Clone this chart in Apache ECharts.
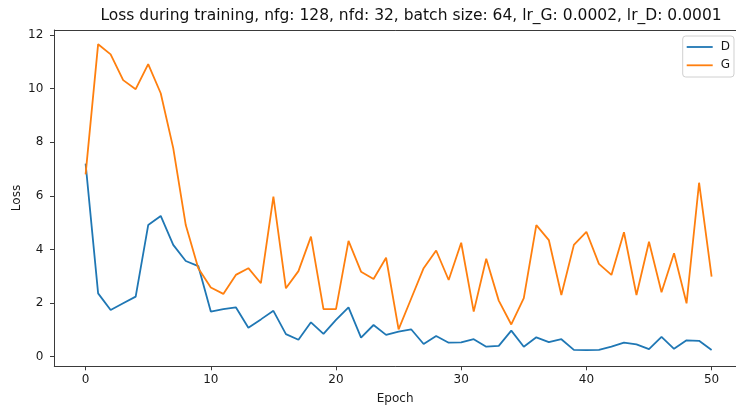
<!DOCTYPE html>
<html>
<head>
<meta charset="utf-8">
<script src="https://cdn.jsdelivr.net/npm/echarts@6/dist/echarts.min.js"></script>
<style>
  html, body { margin: 0; padding: 0; background: #fff; }
  #chart { width: 736px; height: 406px; }
</style>
</head>
<body>
<div id="chart"></div>
<script>
// Training losses per epoch
const epochs = Array.from({ length: 51 }, (_, i) => i);
const lossD = [
  7.2, 2.36, 1.74, 1.99, 2.24, 4.91, 5.25, 4.17, 3.57, 3.38,
  1.68, 1.77, 1.84, 1.08, 1.39, 1.71, 0.84, 0.63, 1.28, 0.85,
  1.37, 1.84, 0.71, 1.18, 0.81, 0.93, 1.02, 0.47, 0.77, 0.52,
  0.53, 0.65, 0.37, 0.40, 0.97, 0.37, 0.72, 0.54, 0.65, 0.25,
  0.24, 0.25, 0.37, 0.52, 0.46, 0.28, 0.74, 0.29, 0.61, 0.59,
  0.25
];
const lossG = [
  6.8, 11.66, 11.28, 10.32, 9.98, 10.92, 9.83, 7.78, 4.91, 3.3,
  2.58, 2.34, 3.05, 3.30, 2.74, 5.97, 2.55, 3.19, 4.48, 1.77,
  1.77, 4.32, 3.17, 2.90, 3.69, 1.02, 2.16, 3.30, 3.96, 2.86,
  4.25, 1.68, 3.65, 2.09, 1.20, 2.18, 4.91, 4.35, 2.30, 4.17,
  4.66, 3.46, 3.05, 4.64, 2.30, 4.29, 2.40, 3.86, 1.99, 6.49,
  2.99
];
const xTicks = [0, 10, 20, 30, 40, 50];
const yTicks = [0, 2, 4, 6, 8, 10, 12];

const titleText = 'Loss during training, nfg: 128, nfd: 32, batch size: 64, lr_G: 0.0002, lr_D: 0.0001';
const font = 'DejaVu Sans';
const axisColor = '#3a3a3a';
const textColor = '#1a1a1a';

// Plot box: x spans -2.5 .. 52.5 but the canvas cuts it off just before the right edge
const plotLeft = 54.3;
const plotWidth = 681.7;
const pxPerEpoch = 12.52;
const xMin = -2.5;
const xMax = xMin + plotWidth / pxPerEpoch;

const pairs = (vals) => epochs.map((e, i) => [e, vals[i]]);

const chart = echarts.init(document.getElementById('chart'), null, { renderer: 'canvas' });
chart.setOption({
  animation: false,
  backgroundColor: '#fff',
  title: {
    text: titleText,
    left: 411,
    top: 8,
    padding: 0,
    textAlign: 'center',
    textStyle: { fontFamily: font, fontSize: 15.5, fontWeight: 'normal', color: '#111' }
  },
  grid: {
    left: plotLeft,
    top: 30,
    width: plotWidth,
    height: 336,
    show: false,
    containLabel: false,
    outerBoundsMode: 'none'
  },
  legend: {
    orient: 'vertical',
    left: 682.7,
    top: 36,
    padding: [4, 4, 4.7, 4],
    icon: 'rect',
    itemWidth: 26,
    itemHeight: 1.8,
    itemGap: 4.3,
    backgroundColor: 'rgba(255,255,255,0.8)',
    borderColor: '#d0d0d0',
    borderWidth: 1,
    borderRadius: 3,
    textStyle: { fontFamily: font, fontSize: 12, lineHeight: 14, color: textColor, padding: [0, 0, 0, 3] },
    data: ['D', 'G']
  },
  xAxis: [
    {
      type: 'value',
      min: xMin,
      max: xMax,
      name: 'Epoch',
      nameLocation: 'middle',
      nameGap: 27,
      nameMoveOverlap: false,
      nameTextStyle: { fontFamily: font, fontSize: 12, color: textColor },
      axisLine: { show: true, onZero: false, lineStyle: { color: axisColor, width: 1 } },
      axisTick: { show: true, inside: false, length: 4.3, customValues: xTicks, lineStyle: { color: axisColor } },
      axisLabel: { customValues: xTicks, margin: 7.5, fontFamily: font, fontSize: 12, color: textColor },
      splitLine: { show: false }
    },
    {
      // top spine
      type: 'value',
      position: 'top',
      min: xMin,
      max: xMax,
      axisLine: { show: true, onZero: false, lineStyle: { color: axisColor, width: 1 } },
      axisTick: { show: false },
      axisLabel: { show: false },
      splitLine: { show: false }
    }
  ],
  yAxis: {
    type: 'value',
    min: -0.35,
    max: 12.19,
    name: 'Loss',
    nameLocation: 'middle',
    nameGap: 31,
    nameMoveOverlap: false,
    nameRotate: 90,
    nameTextStyle: { fontFamily: font, fontSize: 12, color: textColor },
    axisLine: { show: true, onZero: false, lineStyle: { color: axisColor, width: 1 } },
    axisTick: { show: true, inside: false, length: 4.3, customValues: yTicks, lineStyle: { color: axisColor } },
    axisLabel: { customValues: yTicks, margin: 11, fontFamily: font, fontSize: 12, color: textColor },
    splitLine: { show: false }
  },
  series: [
    {
      name: 'D',
      type: 'line',
      data: pairs(lossD),
      symbol: 'none',
      showSymbol: false,
      lineStyle: { color: '#1f77b4', width: 1.8 },
      itemStyle: { color: '#1f77b4' }
    },
    {
      name: 'G',
      type: 'line',
      data: pairs(lossG),
      symbol: 'none',
      showSymbol: false,
      lineStyle: { color: '#ff7f0e', width: 1.8 },
      itemStyle: { color: '#ff7f0e' }
    }
  ]
});
</script>
</body>
</html>
